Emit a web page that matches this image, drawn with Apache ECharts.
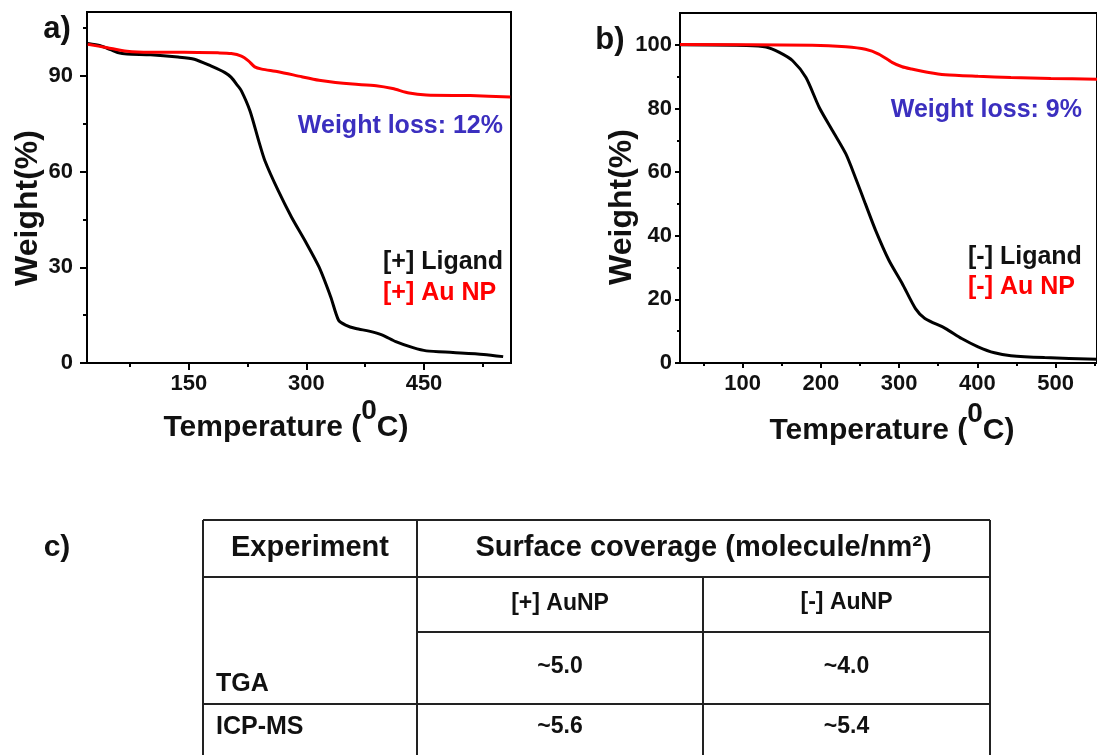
<!DOCTYPE html>
<html>
<head>
<meta charset="utf-8">
<script src="https://cdn.jsdelivr.net/npm/echarts@6/dist/echarts.min.js"></script>
<style>
html,body{margin:0;padding:0;background:#fff;}
#c{width:1097px;height:755px;}
</style>
</head>
<body>
<div id="c"></div>
<script>
// ---------- data (Temperature °C, Weight %) ----------
const ligandPlus = [[21,100.1],[37,99.4],[50,98.2],[59,97.3],[71,96.8],[101,96.6],[136,95.9],[157,95.2],[178,93.1],[196,91],[204,89.5],[212,87],[217,85.3],[228,79],[239,69.7],[247,63.4],[264,54],[281,45.7],[298,38.4],[316,30.1],[331,20.7],[341,13.4],[350,11.9],[363,10.8],[380,10],[397,8.75],[414,6.7],[436,4.8],[453,3.8],[487,3.3],[526,2.7],[551,2.0]];
const auPlus = [[21,99.9],[46,98.8],[71,97.7],[101,97.4],[144,97.4],[187,97.2],[204,97],[217,96.2],[226,94.7],[234,92.8],[243,92.1],[264,91.3],[294,89.7],[316,88.6],[337,87.9],[359,87.4],[389,86.9],[410,86],[431,84.6],[453,84],[509,83.8],[560,83.4]];
const ligandMinus = [[20,100],[105,99.8],[130,99.3],[147,97.6],[164,95],[181,89.7],[198,80.3],[215,73],[232,65.7],[244,58.4],[257,50],[270,41.7],[287,32.3],[304,25],[321,17.1],[333,14],[359,10.9],[380,7.7],[401,5.1],[422,3.2],[443,2.3],[486,1.7],[554,1.2]];
const auMinus = [[20,100.1],[189,99.9],[232,99.4],[257,98.6],[274,97.1],[291,94.5],[304,93.1],[316,92.4],[338,91.3],[359,90.6],[401,90.1],[443,89.7],[494,89.4],[554,89.2]];

const xTicksA = [150,300,450];
const xMinorA = [75,225,375,525];
const yTicksA = [0,30,60,90];
const yMinorA = [15,45,75,105];
const xTicksB = [100,200,300,400,500];
const xMinorB = [50,150,250,350,450,550];
const yTicksB = [0,20,40,60,80,100];
const yMinorB = [10,30,50,70,90];

const seriesNames = ['[+] Ligand','[+] Au NP','[-] Ligand','[-] Au NP'];
const lossTexts = ['Weight loss: 12%','Weight loss: 9%'];
const xTitleParts = ['Temperature (','0','C)'];
const yTitle = 'Weight(%)';

const tableHeader = ['Experiment','Surface coverage (molecule/nm²)'];
const tableSubHeader = ['[+] AuNP','[-] AuNP'];
const tableRows = [['TGA','~5.0','~4.0'],['ICP-MS','~5.6','~5.4']];

// ---------- chart ----------
const FF = '"Liberation Sans", Arial, sans-serif';
const chart = echarts.init(document.getElementById('c'), null, {renderer:'canvas'});
const mctx = document.createElement('canvas').getContext('2d');
function font(sz){ return 'bold ' + sz + 'px ' + FF; }
function tw(t, sz){ mctx.font = font(sz); return mctx.measureText(t).width; }

function mkX(grid, min, max, labels, minor, tickLen, margin){
  return [
    {type:'value', gridIndex:grid, min:min, max:max, position:'bottom',
     axisLine:{show:true, onZero:false, lineStyle:{color:'#000', width:2}},
     axisTick:{show:true, inside:false, length:tickLen, customValues:labels, lineStyle:{color:'#000', width:2}},
     axisLabel:{show:true, customValues:labels, margin:margin, fontSize:22, fontWeight:'bold', fontFamily:FF, color:'#111'},
     splitLine:{show:false}},
    {type:'value', gridIndex:grid, min:min, max:max, position:'bottom',
     axisLine:{show:false},
     axisTick:{show:true, length:Math.round(tickLen*0.6), customValues:minor, lineStyle:{color:'#000', width:2}},
     axisLabel:{show:false}, splitLine:{show:false}}
  ];
}
function mkY(grid, min, max, labels, minor, tickLen, margin){
  return [
    {type:'value', gridIndex:grid, min:min, max:max, position:'left',
     axisLine:{show:true, onZero:false, lineStyle:{color:'#000', width:2}},
     axisTick:{show:true, length:tickLen, customValues:labels, lineStyle:{color:'#000', width:2}},
     axisLabel:{show:true, customValues:labels, margin:margin, fontSize:22, fontWeight:'bold', fontFamily:FF, color:'#111'},
     splitLine:{show:false}},
    {type:'value', gridIndex:grid, min:min, max:max, position:'left',
     axisLine:{show:false},
     axisTick:{show:true, length:Math.round(tickLen*0.6), customValues:minor, lineStyle:{color:'#000', width:2}},
     axisLabel:{show:false}, splitLine:{show:false}}
  ];
}

const line = (name, data, color, xi, yi) => ({
  name:name, type:'line', data:data, xAxisIndex:xi, yAxisIndex:yi,
  showSymbol:false, smooth:0.25,
  lineStyle:{color:color, width:3}, itemStyle:{color:color}, z:3, animation:false
});

// graphic helpers
function txt(text, x, y, sz, color, align, extra){
  return Object.assign({type:'text', x:x, y:y, silent:true,
    style:{text:text, x:0, y:0, font:font(sz), fill:color||'#111',
      align:align||'center', textAlign:align||'center', verticalAlign:'middle', textVerticalAlign:'middle'}}, extra||{});
}
function seg(x1,y1,x2,y2,w){
  return {type:'line', silent:true, shape:{x1:x1,y1:y1,x2:x2,y2:y2}, style:{stroke:'#222', lineWidth:w||2}};
}
function tempTitle(cx, cy){
  const sz = 30, ssz = 28;
  const w1 = tw(xTitleParts[0], sz), w2 = tw(xTitleParts[1], ssz), w3 = tw(xTitleParts[2], sz);
  const x0 = cx - (w1 + w2 + w3) / 2;
  return [
    txt(xTitleParts[0], x0, cy, sz, '#111', 'left'),
    txt(xTitleParts[1], x0 + w1, cy - 17, ssz, '#111', 'left'),
    txt(xTitleParts[2], x0 + w1 + w2, cy, sz, '#111', 'left')
  ];
}

// table geometry
const TL=203, C1=417, C2=703, TR=990, R0=520, R1=577, R2=632, R3=704, RB=760;
const colC = [(C1+C2)/2, (C2+TR)/2];

const graphics = [
  txt('a)', 57, 29, 31, '#111'),
  txt('b)', 610, 40, 31, '#111'),
  txt('c)', 57, 548, 30, '#111'),
  txt(yTitle, 28, 208, 32, '#111', 'center', {rotation:Math.PI/2}),
  txt(yTitle, 622, 207, 32, '#111', 'center', {rotation:Math.PI/2}),
  txt(lossTexts[0], 503, 126, 25, '#3b2fbf', 'right'),
  txt(lossTexts[1], 1082, 110, 25, '#3b2fbf', 'right'),
  txt(seriesNames[0], 383, 262, 25, '#111', 'left'),
  txt(seriesNames[1], 383, 293, 25, '#ff0000', 'left'),
  txt(seriesNames[2], 968, 257, 25, '#111', 'left'),
  txt(seriesNames[3], 968, 287, 25, '#ff0000', 'left'),
  // table lines
  seg(TL,R0,TR,R0), seg(TL,R1,TR,R1), seg(C1,R2,TR,R2), seg(TL,R3,TR,R3),
  seg(TL,R0,TL,RB), seg(C1,R0,C1,RB), seg(C2,R1,C2,RB), seg(TR,R0,TR,RB),
  // table texts
  txt(tableHeader[0], (TL+C1)/2, 548, 29, '#111'),
  txt(tableHeader[1], (C1+TR)/2, 548, 29, '#111'),
  txt(tableSubHeader[0], colC[0], 604, 23, '#111'),
  txt(tableSubHeader[1], colC[1], 603, 23, '#111'),
  txt(tableRows[0][0], 216, 684, 25, '#111', 'left'),
  txt(tableRows[0][1], colC[0], 667, 23, '#111'),
  txt(tableRows[0][2], colC[1], 667, 23, '#111'),
  txt(tableRows[1][0], 216, 727, 25, '#111', 'left'),
  txt(tableRows[1][1], colC[0], 727, 23, '#111'),
  txt(tableRows[1][2], colC[1], 727, 23, '#111')
].concat(tempTitle(286, 428), tempTitle(892, 431));

const option = {
  animation:false,
  backgroundColor:'#fff',
  grid:[
    {left:87, top:12, width:424, height:351, show:true, borderColor:'#000', borderWidth:2, containLabel:false},
    {left:680, top:13, width:420, height:350, show:true, borderColor:'#000', borderWidth:2, containLabel:false}
  ],
  xAxis:[].concat(mkX(0, 20, 561, xTicksA, xMinorA, 7, 10), mkX(1, 20, 553, xTicksB, xMinorB, 5, 10)),
  yAxis:[].concat(mkY(0, 0, 110, yTicksA, yMinorA, 7, 14), mkY(1, 0, 110, yTicksB, yMinorB, 5, 8)),
  series:[
    line(seriesNames[0], ligandPlus, '#000', 0, 0),
    line(seriesNames[1], auPlus, '#ff0000', 0, 0),
    line(seriesNames[2], ligandMinus, '#000', 2, 2),
    line(seriesNames[3], auMinus, '#ff0000', 2, 2)
  ],
  graphic:graphics
};
chart.setOption(option);
</script>
</body>
</html>
